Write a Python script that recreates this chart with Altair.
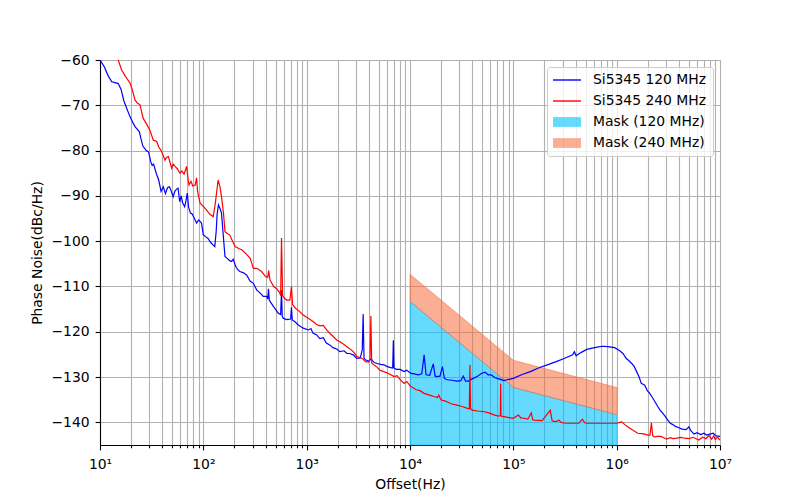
import altair as alt
import pandas as pd

# ---------------- data ----------------
SERIES = ["Si5345 120 MHz", "Si5345 240 MHz", "Mask (120 MHz)", "Mask (240 MHz)"]

F120 = [10, 11, 12, 13, 14, 15, 16, 17, 18, 19.5, 21, 22, 24, 25, 26, 28, 29.5, 31, 32, 33,
        35, 37, 39, 40, 41, 43, 45, 47, 49, 51, 53, 55, 57, 59, 61, 63, 66, 68, 70, 72,
        75, 78, 82, 86, 90, 96, 100, 105, 111, 118, 124, 129, 133, 136, 140, 145, 150, 155, 162, 170,
        180, 187, 195, 205, 215, 226, 245, 263, 283, 305, 329, 350, 380, 410, 420, 427, 435, 442, 480, 531,
        560, 571, 580, 592, 640, 700, 713, 725, 770, 830, 927, 1040, 1100, 1150, 1250, 1340, 1450, 1550, 1670, 1800,
        1950, 2100, 2300, 2450, 2610, 2820, 3050, 3300, 3450, 3520, 3590, 3700, 4000, 4200, 4500, 4820, 5200, 5600, 6030, 6500,
        6800, 6900, 7000, 7400, 8000, 8780, 9300, 10200, 11000, 12000, 13000, 13700, 14300, 15500, 16800, 17500, 18200, 19500, 20600, 21500,
        22900, 25500, 28500, 31000, 32800, 34500, 36700, 40000, 44600, 49000, 53300, 57000, 61000, 66000, 70000, 75000, 81000, 87000, 100000, 120000,
        146000, 175000, 213000, 260000, 310000, 375000, 390000, 405000, 450000, 514000, 580000, 650000, 723000, 823000, 957000, 1070000, 1150000, 1240000, 1300000, 1400000,
        1480000, 1560000, 1650000, 1730000, 1800000, 1870000, 1980000, 2090000, 2200000, 2340000, 2480000, 2630000, 2800000, 2950000, 3100000, 3300000, 3500000, 3700000, 4000000, 4300000,
        4700000, 5000000, 5200000, 5600000, 6000000, 6500000, 7000000, 7400000, 8000000, 8600000, 9000000, 9300000, 10000000]
PN120 = [-60.0, -61.5, -63.5, -64.8, -65.0, -65.2, -66.5, -69.0, -70.5, -72.5, -74.0, -74.8, -75.8, -77.5, -79.0, -80.0, -80.3, -82.5, -83.3, -83.0,
         -85.0, -86.5, -89.0, -88.5, -88.0, -89.5, -88.2, -88.0, -89.0, -90.2, -89.0, -88.5, -88.3, -91.3, -90.0, -91.5, -92.4, -91.0, -89.4, -92.5,
         -93.8, -94.0, -95.0, -96.0, -95.3, -96.0, -98.6, -99.0, -99.4, -100.3, -100.8, -101.2, -98.0, -94.0, -92.0, -92.8, -93.8, -98.0, -103.4, -103.8,
         -104.3, -104.5, -104.0, -105.5, -106.3, -106.7, -107.0, -107.5, -108.8, -109.3, -110.8, -111.3, -112.2, -112.2, -112.8, -110.5, -113.0, -113.3, -114.5, -115.9,
         -116.2, -110.8, -116.5, -117.0, -117.3, -117.2, -114.6, -117.4, -117.8, -118.5, -119.2, -119.6, -119.3, -120.3, -120.7, -121.5, -121.3, -122.5, -122.9, -123.5,
         -123.8, -124.4, -124.2, -124.8, -124.8, -125.1, -125.9, -125.8, -124.0, -116.1, -125.8, -126.2, -126.5, -126.0, -126.8, -127.0, -127.2, -127.3, -127.7, -127.9,
         -128.0, -121.9, -128.0, -128.3, -128.3, -128.8, -128.5, -129.2, -129.3, -129.5, -129.3, -125.1, -129.5, -129.6, -127.1, -129.8, -129.9, -129.8, -127.7, -130.3,
         -130.6, -130.7, -130.9, -130.8, -129.8, -130.9, -130.9, -130.4, -129.9, -129.2, -128.9, -129.5, -129.5, -130.1, -130.3, -130.5, -130.8, -130.6, -130.3, -129.5,
         -128.8, -128.0, -127.3, -126.6, -125.9, -125.1, -124.4, -125.3, -124.6, -123.9, -123.6, -123.4, -123.2, -123.3, -123.5, -124.2, -124.8, -125.9, -126.3, -127.0,
         -127.7, -128.8, -130.0, -131.4, -131.6, -131.8, -133.0, -133.6, -134.4, -135.4, -136.4, -137.3, -138.0, -138.7, -139.4, -140.2, -140.5, -140.9, -141.2, -141.5,
         -141.6, -141.0, -141.8, -142.6, -142.3, -142.7, -142.4, -142.8, -142.6, -142.4, -142.9, -143.0, -143.1]

F240 = [13.5, 15, 16.2, 17.5, 18.5, 19.5, 20.5, 21.8, 23, 24.4, 25.3, 26.2, 28, 30.4, 32.8, 35.4, 37, 39.5, 42.5, 44,
        45.9, 49.4, 51, 53.3, 56, 59.4, 62, 65, 68.9, 70.5, 72.6, 76, 79, 83.5, 86, 88, 93, 100, 107, 115,
        124.5, 130, 139, 145, 150, 157, 162, 170, 180, 190, 203, 220, 235, 260, 284, 305, 329, 366, 400, 420,
        429, 442, 480, 513, 545, 560, 571, 585, 610, 640, 688, 713, 730, 780, 850, 927, 1000, 1080, 1160, 1250,
        1350, 1450, 1560, 1700, 1800, 1950, 2100, 2300, 2450, 2700, 2850, 3070, 3300, 3500, 3700, 4000, 4100, 4180, 4260, 4460,
        4800, 5100, 5580, 6200, 7010, 7500, 8000, 8780, 9300, 10200, 11500, 12500, 13700, 15500, 17000, 18500, 19000, 19900, 22000, 25000,
        28500, 32000, 36000, 37500, 38000, 38500, 40000, 45000, 51000, 58000, 66000, 72000, 75000, 75400, 76000, 78600, 88000, 100000, 112000, 118000,
        126000, 138000, 149000, 154000, 158000, 190000, 228000, 237000, 245000, 262000, 275000, 290000, 321000, 380000, 430000, 466000, 490000, 514000, 600000, 700000,
        800000, 957000, 1000000, 1070000, 1120000, 1200000, 1300000, 1450000, 1600000, 1750000, 1870000, 2000000, 2100000, 2170000, 2230000, 2300000, 2500000, 2680000, 2850000, 3040000,
        3300000, 3500000, 3800000, 4200000, 4540000, 5000000, 5500000, 6230000, 6800000, 7300000, 7800000, 8300000, 8700000, 9000000, 9400000, 10000000]
PN240 = [-57.5, -60.0, -62.2, -63.5, -64.3, -65.1, -66.5, -68.8, -69.5, -69.9, -71.5, -72.9, -74.0, -75.5, -77.7, -78.0, -79.2, -80.2, -82.1, -81.5,
         -81.3, -83.9, -83.0, -83.5, -84.0, -85.0, -84.5, -85.2, -83.5, -85.5, -87.6, -86.8, -87.8, -87.6, -86.0, -89.0, -91.6, -92.3, -93.1, -94.0,
         -94.6, -92.0, -86.5, -88.0, -90.2, -94.0, -97.9, -98.3, -98.6, -99.8, -101.2, -101.6, -101.9, -102.8, -103.8, -106.0, -106.0, -106.7, -107.8, -108.0,
         -106.5, -108.6, -110.0, -110.5, -111.3, -112.0, -99.3, -112.0, -112.6, -113.0, -113.0, -110.0, -114.0, -114.8, -115.5, -116.3, -116.8, -117.3, -117.8, -118.4,
         -118.7, -118.6, -119.6, -120.5, -121.0, -121.8, -122.2, -122.8, -123.3, -124.0, -124.5, -125.5, -125.7, -126.0, -126.6, -126.7, -126.0, -116.5, -126.9, -127.3,
         -127.8, -128.5, -128.8, -129.2, -129.9, -129.7, -130.5, -131.4, -131.0, -132.1, -132.8, -133.0, -133.6, -134.0, -134.3, -134.5, -134.0, -135.0, -135.3, -135.9,
         -136.2, -136.5, -136.9, -137.0, -127.3, -137.0, -137.3, -137.5, -137.6, -137.9, -138.4, -138.6, -138.5, -131.5, -138.6, -138.7, -138.9, -139.1, -138.4, -139.0,
         -139.1, -139.3, -137.9, -139.4, -139.5, -139.6, -137.3, -139.6, -139.8, -139.8, -139.5, -140.0, -140.2, -140.2, -140.2, -139.3, -140.1, -140.2, -140.2, -140.2,
         -140.2, -140.2, -140.2, -140.0, -139.9, -140.5, -141.1, -141.8, -142.4, -142.5, -142.6, -142.8, -142.8, -140.1, -142.9, -143.2, -143.1, -143.1, -143.4, -143.7,
         -143.4, -143.6, -143.5, -143.3, -143.5, -143.6, -143.3, -143.9, -143.3, -143.6, -142.9, -143.7, -143.0, -143.8, -143.2, -143.9]

MASK_F = [1e4, 1e5, 1e6]
MASK_120 = [-113.3, -132.3, -138.3]
MASK_240 = [-107.3, -126.3, -132.3]

X_DECADES = [10, 100, 1000, 10000, 100000, 1000000, 10000000]
X_DECADE_LABELS = ["10¹", "10²", "10³", "10⁴", "10⁵", "10⁶", "10⁷"]
X_TICKS = [m * 10 ** e for e in range(1, 7) for m in range(1, 10)] + [10 ** 7]
Y_TICKS = [-140, -130, -120, -110, -100, -90, -80, -70, -60]
X_DOMAIN = [10, 1e7]
Y_DOMAIN = [-145, -60]

# ---------------- styles ----------------
FONT = "DejaVu Sans"
FS = 13.9
GRID = "#b0b0b0"
COLORS = ["#0000ff", "#ff0000", "rgba(0,191,255,0.6)", "rgba(245,110,60,0.55)"]
LINE_SYMBOL = "M-1,-0.1L3,-0.1L3,0.1L-1,0.1Z"
PATCH_SYMBOL = "M-1,-0.7L3,-0.7L3,0.7L-1,0.7Z"

lines_df = pd.concat([
    pd.DataFrame({"f": F120, "v": PN120, "series": SERIES[0]}),
    pd.DataFrame({"f": F240, "v": PN240, "series": SERIES[1]}),
], ignore_index=True)
mask_df = pd.DataFrame({"f": MASK_F, "m120": MASK_120, "m240": MASK_240})

label_expr = " : ".join(f"datum.value == {v} ? '{l}'" for v, l in zip(X_DECADES, X_DECADE_LABELS)) + " : ''"
major_test = "indexof([" + ",".join(str(v) for v in X_DECADES) + "], datum.value) >= 0"

x_axis = alt.Axis(
    values=X_TICKS, labelExpr=label_expr, labelOverlap=False, labelFlush=False,
    grid=True, gridColor=GRID, gridWidth=1.1,
    tickSize={"condition": {"test": major_test, "value": 4.9}, "value": 2.8},
    tickColor="black", tickWidth=1.1, domainColor="black", domainWidth=1.1,
    labelFont=FONT, labelFontSize=FS, labelColor="black", labelPadding=8,
    title="Offset(Hz)", titleFont=FONT, titleFontSize=FS, titleFontWeight="normal",
    titleColor="black", titlePadding=6,
)
y_axis = alt.Axis(
    values=Y_TICKS, grid=True, gridColor=GRID, gridWidth=1.1,
    tickSize=4.9, tickColor="black", tickWidth=1.1, domainColor="black", domainWidth=1.1,
    labelFont=FONT, labelFontSize=FS, labelColor="black", labelPadding=6,
    title="Phase Noise(dBc/Hz)", titleFont=FONT, titleFontSize=FS, titleFontWeight="normal",
    titleColor="black", titlePadding=6,
)
x_scale = alt.Scale(type="log", domain=X_DOMAIN, nice=False)
y_scale = alt.Scale(domain=Y_DOMAIN, nice=False, zero=False)
stroke_scale = alt.Scale(domain=SERIES[:2], range=COLORS[:2])
color_scale = alt.Scale(domain=SERIES, range=COLORS)
shape_scale = alt.Scale(domain=SERIES, range=[LINE_SYMBOL, LINE_SYMBOL, PATCH_SYMBOL, PATCH_SYMBOL])

legend = alt.Legend(
    title=None, orient="top-right", offset=7, padding=6,
    fillColor="rgba(255,255,255,0.8)", strokeColor="#cccccc", cornerRadius=3,
    labelFont=FONT, labelFontSize=FS, labelColor="black", labelOffset=26,
    symbolSize=196, symbolStrokeWidth=0, symbolOpacity=1, rowPadding=7,
)

mask120 = alt.Chart(mask_df).mark_area(
    fill=COLORS[2], stroke=COLORS[2], strokeWidth=1
).encode(
    x=alt.X("f:Q", scale=x_scale, axis=x_axis),
    y=alt.Y("m120:Q", scale=y_scale, axis=y_axis),
    y2=alt.datum(-145),
)
mask240 = alt.Chart(mask_df).mark_area(
    fill=COLORS[3], stroke=COLORS[3], strokeWidth=1
).encode(
    x=alt.X("f:Q", scale=x_scale, axis=x_axis),
    y=alt.Y("m240:Q", scale=y_scale, axis=y_axis),
    y2="m120:Q",
)
lines = alt.Chart(lines_df).mark_line(strokeWidth=1.2, clip=True).encode(
    x=alt.X("f:Q", scale=x_scale, axis=x_axis),
    y=alt.Y("v:Q", scale=y_scale, axis=y_axis),
    stroke=alt.Stroke("series:N", scale=stroke_scale, legend=None),
    order="f:Q",
)
legend_layer = alt.Chart(lines_df).mark_point(filled=True, opacity=0, size=1).encode(
    x=alt.X("f:Q", scale=x_scale, axis=x_axis),
    y=alt.Y("v:Q", scale=y_scale, axis=y_axis),
    color=alt.Color("series:N", scale=color_scale, legend=legend),
    shape=alt.Shape("series:N", scale=shape_scale, legend=legend),
)

chart = alt.layer(mask120, mask240, lines, legend_layer).properties(
    width=620, height=385,
    autosize=alt.AutoSizeParams(type="none"),
    padding={"left": 92, "top": 52, "right": 72, "bottom": 47},
    background="white",
).configure_view(
    stroke="black", strokeWidth=1.1
).configure(font=FONT)

chart.save("out.html", embed_options={"renderer": "svg", "actions": False})
